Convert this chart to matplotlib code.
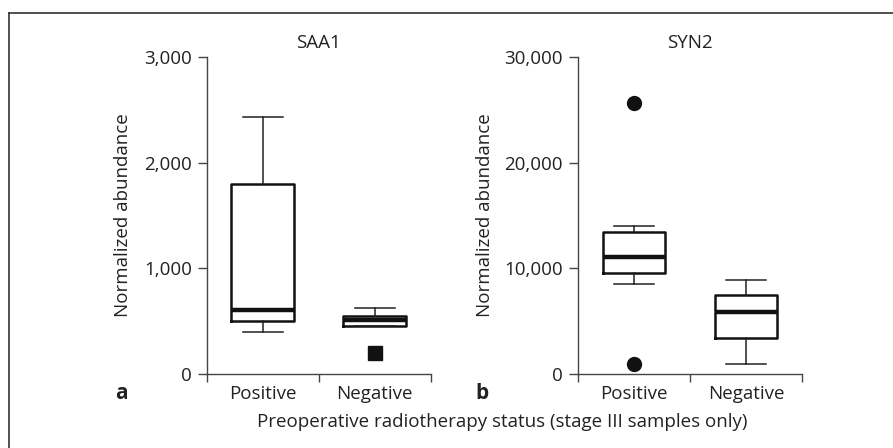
import matplotlib
matplotlib.use("Agg")
import matplotlib.pyplot as plt
from matplotlib.lines import Line2D

plt.rcParams['font.family'] = ['Open Sans', 'DejaVu Sans']

categories = ["Positive", "Negative"]

# SAA1 box statistics (Positive, Negative)
saa1_whislo = [400, 450]
saa1_q1 = [500, 450]
saa1_med = [605, 510]
saa1_q3 = [1800, 550]
saa1_whishi = [2430, 625]
saa1_fliers = [[], [195]]
saa1_yticks = [0, 1000, 2000, 3000]
saa1_yticklabels = ["0", "1,000", "2,000", "3,000"]

# SYN2 box statistics (Positive, Negative)
syn2_whislo = [8550, 920]
syn2_q1 = [9560, 3390]
syn2_med = [11050, 5830]
syn2_q3 = [13420, 7500]
syn2_whishi = [14050, 8900]
syn2_fliers = [[25600, 920], []]
syn2_yticks = [0, 10000, 20000, 30000]
syn2_yticklabels = ["0", "10,000", "20,000", "30,000"]

W, H = 893, 448
fig = plt.figure(figsize=(W / 100, H / 100), dpi=100)
TXT = "#222222"
SP = "#444444"
FS = 13.5


def make_axes(left_px, title, whislo, q1, med, q3, whishi, fliers, yticks,
              yticklabels, marker, panel, ylabel_x, panel_x):
    ax = fig.add_axes([left_px / W, (H - 374) / H, 224 / W, 317 / H])
    stats = []
    for i in range(len(categories)):
        stats.append(dict(whislo=whislo[i], q1=q1[i], med=med[i], q3=q3[i],
                          whishi=whishi[i], fliers=fliers[i], label=categories[i]))
    ax.bxp(stats, positions=[0, 1], widths=0.56, capwidths=0.36,
           boxprops=dict(color="#111111", linewidth=1.8),
           medianprops=dict(color="#111111", linewidth=3.2),
           whiskerprops=dict(color="#222222", linewidth=1.1),
           capprops=dict(color="#222222", linewidth=1.1),
           flierprops=dict(marker=marker, markerfacecolor="#111111",
                           markeredgecolor="#111111", markersize=10,
                           linestyle="none"))
    ax.set_xlim(-0.5, 1.5)
    ax.set_ylim(yticks[0], yticks[-1])
    for s in ["top", "right"]:
        ax.spines[s].set_visible(False)
    for s in ["left", "bottom"]:
        ax.spines[s].set_color(SP)
        ax.spines[s].set_linewidth(1.0)
    ax.set_yticks(yticks)
    ax.set_yticklabels(yticklabels)
    ax.tick_params(axis="y", length=6.5, width=1.0, color=SP, pad=4.3,
                   labelsize=FS, labelcolor=TXT)
    ax.set_xticks([0, 1])
    ax.set_xticklabels(categories)
    ax.tick_params(axis="x", which="major", length=0, pad=8,
                   labelsize=FS, labelcolor=TXT)
    ax.set_xticks([-0.5, 0.5, 1.5], minor=True)
    ax.tick_params(axis="x", which="minor", length=6, width=1.0, color=SP)
    ax.set_ylabel("Normalized abundance", fontsize=FS, color=TXT)
    ax.yaxis.set_label_coords(ylabel_x, 0.5)
    ax.text(0.5, (374 - 42.5) / 317, title, transform=ax.transAxes, ha="center",
            va="center", fontsize=FS, color=TXT)
    ax.text(panel_x, (374 - 393) / 317, panel, transform=ax.transAxes, ha="center",
            va="center", fontsize=15, fontweight="bold", color=TXT)
    ax.set_facecolor("none")
    return ax


make_axes(206.7, "SAA1", saa1_whislo, saa1_q1, saa1_med, saa1_q3, saa1_whishi,
          saa1_fliers, saa1_yticks, saa1_yticklabels, "s", "a", -0.333,
          (121 - 206.7) / 224)
make_axes(578, "SYN2", syn2_whislo, syn2_q1, syn2_med, syn2_q3, syn2_whishi,
          syn2_fliers, syn2_yticks, syn2_yticklabels, "o", "b", -0.375,
          (482 - 578) / 224)

fig.text(502 / W, 1 - 422 / H,
         "Preoperative radiotherapy status (stage III samples only)",
         ha="center", va="center", fontsize=FS, color=TXT)

# outer frame (top and left edges)
fig.add_artist(Line2D([9 / W, 9 / W], [0, 1 - 13 / H], transform=fig.transFigure,
                      color="#333333", linewidth=1.2))
fig.add_artist(Line2D([9 / W, 1], [1 - 13 / H, 1 - 13 / H], transform=fig.transFigure,
                      color="#333333", linewidth=1.2))

fig.savefig("out.png", dpi=100)
